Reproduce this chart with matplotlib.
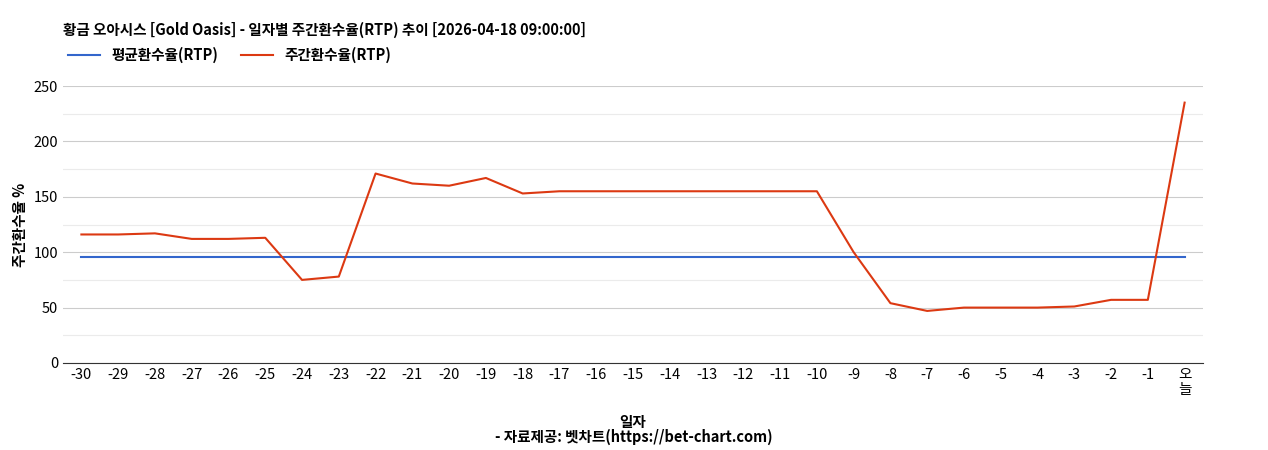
import matplotlib
matplotlib.use("Agg")
import matplotlib.pyplot as plt

plt.rcParams['font.family'] = ['Noto Sans CJK KR', 'DejaVu Sans']

labels = [str(i) for i in range(-30, 0)] + ["오\n늘"]
weekly = [116, 116, 117, 112, 112, 113, 75, 78, 171, 162, 160, 167, 153, 155, 155, 155, 155,
          155, 155, 155, 155, 100, 54, 47, 50, 50, 50, 51, 57, 57, 235]
avg = [96] * len(labels)

fig = plt.figure(figsize=(12.68, 4.5), dpi=100)
ax = fig.add_axes([63/1268, 1-363/450, (1203-63)/1268, (363-86)/450])
x = list(range(len(labels)))
ax.plot(x, avg, color='#3366cc', lw=1.5, label='평균환수율(RTP)')
ax.plot(x, weekly, color='#dc3912', lw=1.5, label='주간환수율(RTP)')
ax.set_xlim(-0.5, len(labels) - 0.5)
ax.set_ylim(0, 250)
ax.set_yticks([0, 50, 100, 150, 200, 250])
ax.set_yticks([25, 75, 125, 175, 225], minor=True)
ax.grid(axis='y', which='major', color='#cccccc', lw=0.8)
ax.grid(axis='y', which='minor', color='#ebebeb', lw=0.8)
ax.tick_params(which='minor', length=0)
ax.tick_params(axis='y', length=0, labelsize=10.5)
ax.tick_params(axis='x', length=0, labelsize=10.5)
ax.set_axisbelow(True)
ax.set_xticks(x)
ax.set_xticklabels(labels, linespacing=1.1, va='top')
for s in ['top', 'right', 'left']:
    ax.spines[s].set_visible(False)
ax.spines['bottom'].set_color('#333333')
ax.set_ylabel('주간환수율 %', fontsize=10.5, fontweight='bold')
ax.set_xlabel('일자', fontsize=10.5, fontweight='bold', labelpad=12)
fig.text(63/1268, 1-30/450, '황금 오아시스 [Gold Oasis] - 일자별 주간환수율(RTP) 추이 [2026-04-18 09:00:00]',
         fontsize=10.5, fontweight='bold', va='center')
fig.text(0.5, 1-437/450, '- 자료제공: 벳차트(https://bet-chart.com)', fontsize=10.5,
         fontweight='bold', ha='center', va='center')
fig.legend(loc='center left', bbox_to_anchor=(55/1268, 1-55/450), ncol=2, frameon=False,
           prop={'size': 10.5, 'weight': 'bold'}, handlelength=2.2, columnspacing=1.5)
fig.savefig('out.png')
